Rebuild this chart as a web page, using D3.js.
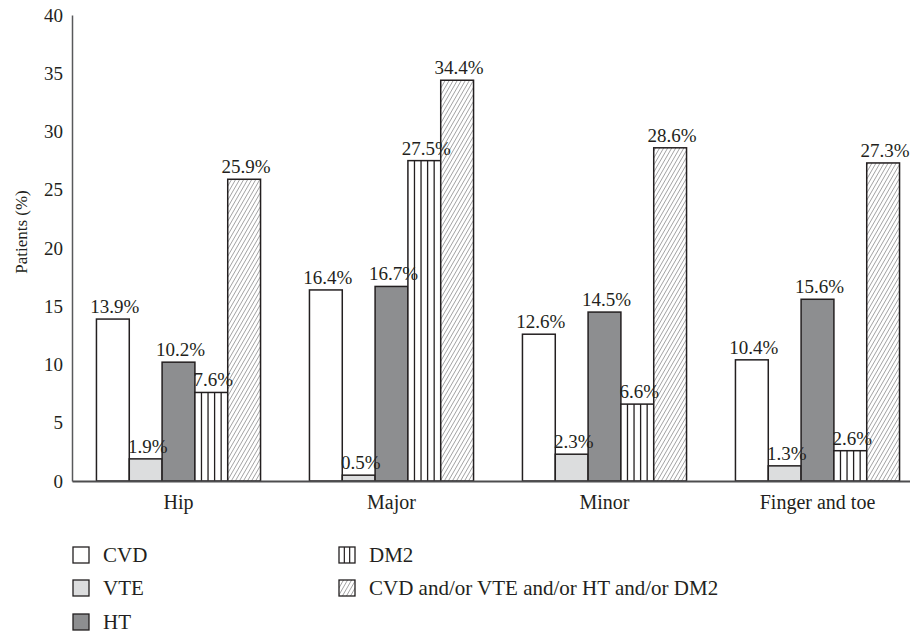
<!DOCTYPE html>
<html>
<head>
<meta charset="utf-8">
<script src="https://cdn.jsdelivr.net/npm/d3@7"></script>
<style>
  body { margin: 0; background: #fff; }
  svg text { font-family: "Liberation Serif", "Times New Roman", "DejaVu Serif", serif; fill: #231f20; }
</style>
</head>
<body>
<div id="chart-area"></div>
<script>
var categories = ["Hip", "Major", "Minor", "Finger and toe"];
var series = ["CVD", "VTE", "HT", "DM2", "CVD and/or VTE and/or HT and/or DM2"];
var cvd = [13.9, 16.4, 12.6, 10.4];
var vte = [1.9, 0.5, 2.3, 1.3];
var ht = [10.2, 16.7, 14.5, 15.6];
var dm2 = [7.6, 27.5, 6.6, 2.6];
var combined = [25.9, 34.4, 28.6, 27.3];
var yTicks = [0, 5, 10, 15, 20, 25, 30, 35, 40];

var values = [cvd, vte, ht, dm2, combined];
var fills = ["#ffffff", "#dcddde", "#8d8e90", "#ffffff", "url(#hatch)"];

var width = 910;
var height = 638;
var ink = "#231f20";
var serif = "'Liberation Serif', 'Times New Roman', 'DejaVu Serif', serif";

var svg = d3.select("#chart-area")
    .append("svg")
    .attr("width", width)
    .attr("height", height)
    .attr("font-family", serif);

var defs = svg.append("defs");
var hatch = defs.append("pattern")
    .attr("id", "hatch")
    .attr("patternUnits", "userSpaceOnUse")
    .attr("width", 3.5)
    .attr("height", 3.5)
    .attr("patternTransform", "rotate(30)");
hatch.append("rect")
    .attr("width", 3.5)
    .attr("height", 3.5)
    .attr("fill", "#fff");
hatch.append("line")
    .attr("x1", 0).attr("y1", 0)
    .attr("x2", 0).attr("y2", 3.5)
    .attr("stroke", "#5d5e60")
    .attr("stroke-width", 1);

var x0 = d3.scaleBand()
    .domain(categories)
    .range([72, 924]);

var x1 = d3.scaleBand()
    .domain(series)
    .range([0, x0.bandwidth()])
    .paddingOuter(0.745);

var y = d3.scaleLinear()
    .domain([0, 40])
    .range([481, 15]);

// y axis
var yAxis = svg.append("g")
    .attr("transform", "translate(72,0)")
    .call(d3.axisLeft(y).tickValues(yTicks).tickSize(0).tickPadding(9));
yAxis.attr("font-family", serif);
yAxis.select(".domain").attr("stroke", "#58595b").attr("stroke-width", 1.5);
yAxis.selectAll("text")
    .attr("font-size", "19px")
    .style("font-family", serif)
    .attr("fill", ink);

svg.append("text")
    .attr("transform", "translate(27,232) rotate(-90)")
    .attr("text-anchor", "middle")
    .attr("font-size", "17px")
    .style("font-family", serif)
    .text("Patients (%)");

// bars
var groups = svg.selectAll("g.group")
    .data(categories)
    .enter()
    .append("g")
    .attr("class", "group")
    .attr("transform", function(d) { return "translate(" + x0(d) + ",0)"; });

groups.each(function(cat, ci) {
    var g = d3.select(this);
    var rows = series.map(function(s, si) {
        return { series: s, si: si, value: values[si][ci] };
    });

    g.selectAll("rect")
        .data(rows)
        .enter()
        .append("rect")
        .attr("x", function(d) { return x1(d.series); })
        .attr("y", function(d) { return y(d.value); })
        .attr("width", x1.bandwidth())
        .attr("height", function(d) { return y(0) - y(d.value); })
        .attr("fill", function(d) { return fills[d.si]; })
        .attr("stroke", ink)
        .attr("stroke-width", 1.5);

    // DM2 vertical stripes
    var dm = rows[3];
    var bx = x1(dm.series);
    var bw = x1.bandwidth();
    [1, 2, 3, 4].forEach(function(k) {
        g.append("line")
            .attr("x1", bx + bw * k / 5)
            .attr("x2", bx + bw * k / 5)
            .attr("y1", y(dm.value))
            .attr("y2", y(0))
            .attr("stroke", ink)
            .attr("stroke-width", 1.3);
    });

    g.selectAll("text.val")
        .data(rows)
        .enter()
        .append("text")
        .attr("class", "val")
        .attr("x", function(d) { return x1(d.series) + x1.bandwidth() / 2 + 2; })
        .attr("y", function(d) { return y(d.value) - 6; })
        .attr("text-anchor", "middle")
        .attr("font-size", "19px")
        .style("font-family", serif)
        .text(function(d) { return d.value.toFixed(1) + "%"; });
});

// x axis
var xAxis = svg.append("g")
    .attr("transform", "translate(0,481)")
    .call(d3.axisBottom(x0).tickSize(0).tickPadding(14));
xAxis.attr("font-family", serif);
xAxis.select(".domain").attr("stroke", "#4d4d4f").attr("stroke-width", 2);
xAxis.selectAll("text")
    .attr("font-size", "20px")
    .style("font-family", serif)
    .attr("fill", ink);

// legend
var legendPos = [[73, 547], [73, 580], [73, 614], [339, 547], [339, 580]];
var legend = svg.selectAll("g.legend")
    .data(series)
    .enter()
    .append("g")
    .attr("class", "legend")
    .attr("transform", function(d, i) { return "translate(" + legendPos[i][0] + "," + legendPos[i][1] + ")"; });

legend.append("rect")
    .attr("width", 16)
    .attr("height", 16)
    .attr("fill", function(d, i) { return fills[i]; })
    .attr("stroke", ink)
    .attr("stroke-width", 1.3);

legend.filter(function(d, i) { return i === 3; })
    .selectAll("line")
    .data([1, 2])
    .enter()
    .append("line")
    .attr("x1", function(k) { return 16 * k / 3; })
    .attr("x2", function(k) { return 16 * k / 3; })
    .attr("y1", 0)
    .attr("y2", 16)
    .attr("stroke", ink)
    .attr("stroke-width", 1.2);

legend.append("text")
    .attr("x", 30)
    .attr("y", 15)
    .attr("font-size", "21px")
    .style("font-family", serif)
    .text(function(d) { return d; });
</script>
</body>
</html>
